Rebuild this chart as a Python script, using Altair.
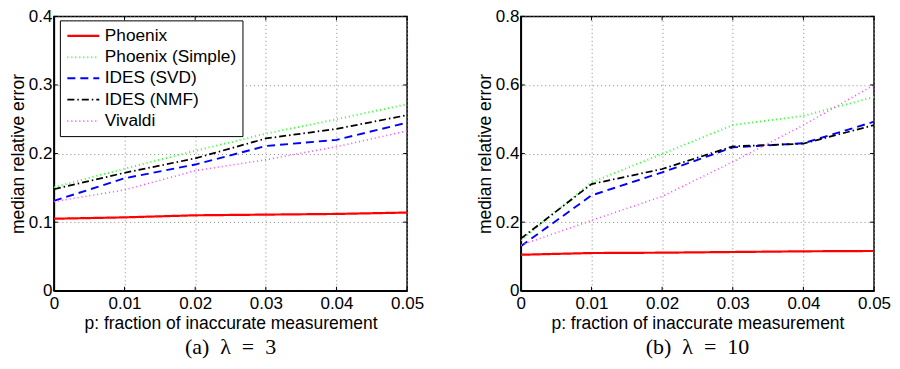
import altair as alt
import pandas as pd

p_values = [0.0, 0.01, 0.02, 0.03, 0.04, 0.05]
methods = ["Phoenix", "Phoenix (Simple)", "IDES (SVD)", "IDES (NMF)", "Vivaldi"]

# panel (a) lambda = 3
a_phoenix = [0.105, 0.107, 0.110, 0.111, 0.112, 0.114]
a_simple = [0.151, 0.178, 0.204, 0.229, 0.250, 0.272]
a_svd = [0.131, 0.164, 0.184, 0.211, 0.220, 0.245]
a_nmf = [0.148, 0.172, 0.193, 0.222, 0.236, 0.256]
a_vivaldi = [0.130, 0.147, 0.175, 0.191, 0.210, 0.233]

# panel (b) lambda = 10
b_phoenix = [0.105, 0.110, 0.111, 0.113, 0.115, 0.116]
b_simple = [0.147, 0.316, 0.399, 0.483, 0.510, 0.565]
b_svd = [0.130, 0.278, 0.345, 0.418, 0.430, 0.493]
b_nmf = [0.152, 0.311, 0.355, 0.421, 0.429, 0.483]
b_vivaldi = [0.133, 0.205, 0.275, 0.376, 0.483, 0.600]

captions = ["(a)\u2002λ\u2002=\u20023", "(b)\u2002λ\u2002=\u200210"]

colors = ["#ff0000", "#33ff33", "#0000ff", "#000000", "#ff44ff"]
dashes = [[1, 0], [1, 3], [8, 5], [7, 3, 1.5, 3], [1, 3]]
widths = [2.2, 1.6, 2.2, 1.6, 1.6]

W, H = 354, 275
TICK = 4


def make_df(series):
    rows = []
    for m, vals in zip(methods, series):
        for p, v in zip(p_values, vals):
            rows.append({"p": p, "err": v, "method": m})
    return pd.DataFrame(rows)


def panel(df, ymax, ystep, caption):
    yticks = [round(i * ystep, 3) for i in range(int(round(ymax / ystep)) + 1)]
    xs = alt.Scale(domain=[0, 0.05], nice=False)
    ys = alt.Scale(domain=[0, ymax], nice=False)
    xax = alt.Axis(values=p_values, format="~g", title="p: fraction of inaccurate measurement")
    yax = alt.Axis(values=yticks, format="~g", title="median relative error")

    lines = alt.Chart(df).mark_line(clip=True).encode(
        x=alt.X("p:Q", scale=xs, axis=xax),
        y=alt.Y("err:Q", scale=ys, axis=yax),
        color=alt.Color("method:N", scale=alt.Scale(domain=methods, range=colors),
                        legend=alt.Legend(orient="none", legendX=6, legendY=4, title=None,
                                          strokeColor="black", fillColor="white",
                                          padding=6, symbolType="M-1,0H3",
                                          symbolSize=256, symbolStrokeWidth=2,
                                          labelFont="Liberation Sans", labelFontSize=17.3,
                                          labelColor="black", labelOffset=20,
                                          rowPadding=3.5, cornerRadius=0)),
        strokeDash=alt.StrokeDash("method:N", scale=alt.Scale(domain=methods, range=dashes)),
        strokeWidth=alt.StrokeWidth("method:N", scale=alt.Scale(domain=methods, range=widths)),
    )

    xt = pd.DataFrame({"p": p_values})
    yt = pd.DataFrame({"err": yticks})
    bottom_ticks = alt.Chart(xt).mark_rule(color="black", strokeWidth=1).encode(
        x=alt.X("p:Q", scale=xs, axis=xax), y=alt.value(H), y2=alt.value(H - TICK))
    top_ticks = alt.Chart(xt).mark_rule(color="black", strokeWidth=1).encode(
        x=alt.X("p:Q", scale=xs, axis=xax), y=alt.value(0), y2=alt.value(TICK))
    left_ticks = alt.Chart(yt).mark_rule(color="black", strokeWidth=1).encode(
        y=alt.Y("err:Q", scale=ys, axis=yax), x=alt.value(0), x2=alt.value(TICK))
    right_ticks = alt.Chart(yt).mark_rule(color="black", strokeWidth=1).encode(
        y=alt.Y("err:Q", scale=ys, axis=yax), x=alt.value(W), x2=alt.value(W - TICK))

    return alt.layer(lines, bottom_ticks, top_ticks, left_ticks, right_ticks).properties(
        width=W, height=H,
        title=alt.TitleParams(caption, orient="bottom", font="Liberation Serif",
                              fontSize=22, fontWeight="normal", color="black", offset=5),
    )


df_a = make_df([a_phoenix, a_simple, a_svd, a_nmf, a_vivaldi])
df_b = make_df([b_phoenix, b_simple, b_svd, b_nmf, b_vivaldi])

chart = alt.hconcat(
    panel(df_a, 0.4, 0.1, captions[0]),
    panel(df_b, 0.8, 0.2, captions[1]),
    spacing=50,
).properties(
    background="white", padding={"left": 0, "top": -2, "right": 0, "bottom": 0}
).configure_view(
    stroke="black", strokeWidth=1.5
).configure_axis(
    labelFont="Liberation Sans", labelFontSize=17, labelColor="black",
    titleFont="Liberation Sans", titleFontSize=17.5, titleFontWeight="normal", titleColor="black",
    domainColor="black", domainWidth=1.5, ticks=False, labelPadding=5,
    grid=True, gridColor="#888888", gridDash=[1, 3], gridWidth=1,
    labelFlush=False, labelOverlap=False,
).configure_axisY(
    labelPadding=2, titlePadding=1,
).configure_axisX(
    titlePadding=3,
)

chart.save("out.html", embed_options={"renderer": "svg", "actions": False})
